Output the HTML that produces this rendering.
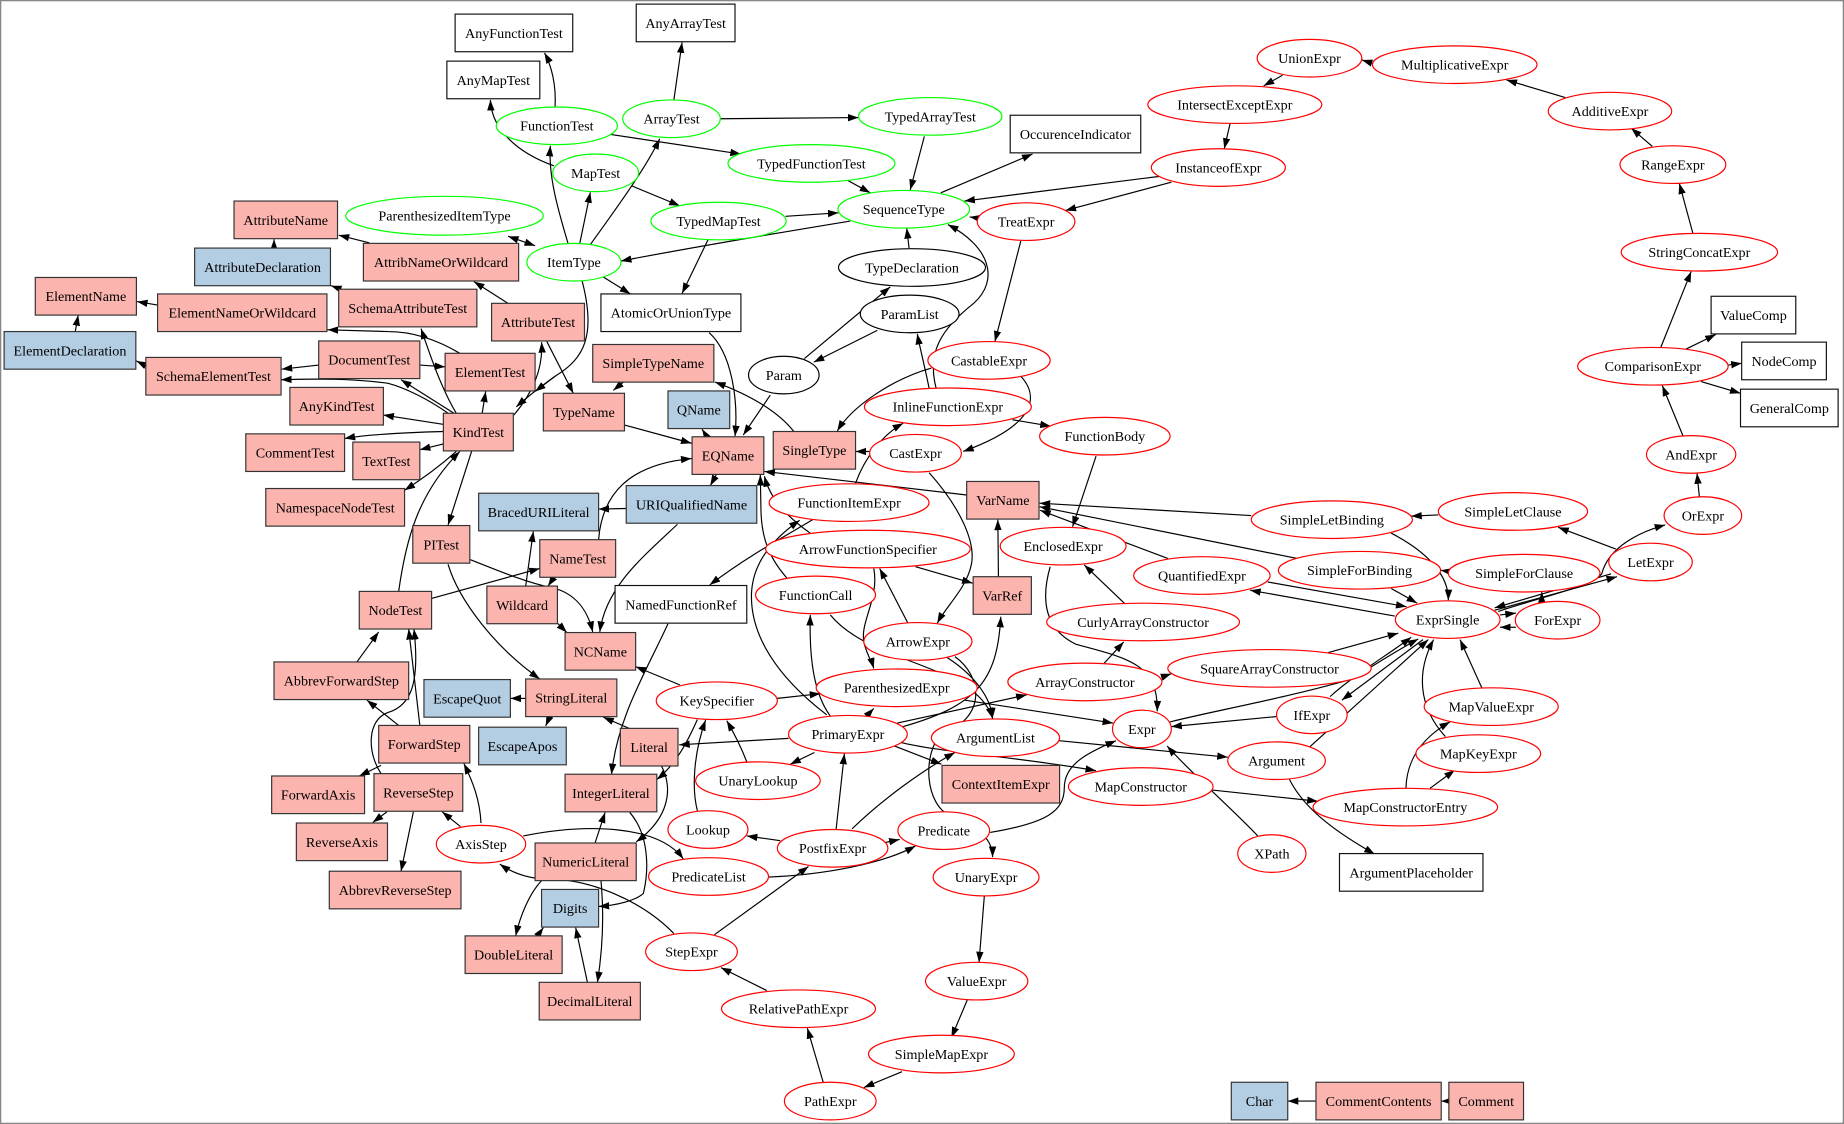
<!DOCTYPE html>
<html><head><meta charset="utf-8"><style>
html,body{margin:0;padding:0;background:#fff}
svg{display:block}
text{font-family:"Liberation Serif","Times New Roman",serif;font-size:12px;text-anchor:middle;fill:#000}
.e path{fill:none;stroke:#000;stroke-width:1;marker-end:url(#a)}
.pk rect{fill:#fbb4ae;stroke:#333;stroke-width:1}
.bl rect{fill:#b3cde3;stroke:#333;stroke-width:1}
.wh rect{fill:#fff;stroke:#111;stroke-width:1}
.gr ellipse{fill:#fff;stroke:#00ff00;stroke-width:1}
.rd ellipse{fill:#fff;stroke:#ff0000;stroke-width:1}
.bk ellipse{fill:#fff;stroke:#000;stroke-width:1}
</style></head><body>
<svg width="1844" height="1124" viewBox="0 0 1568 956" preserveAspectRatio="none" xmlns="http://www.w3.org/2000/svg">
<defs>
<marker id="a" viewBox="0 0 10 7" refX="10" refY="3.5" markerWidth="9" markerHeight="6.5" markerUnits="userSpaceOnUse" orient="auto"><path d="M0,0L10,3.5L0,7z" fill="#000"/></marker>
<marker id="b" viewBox="0 0 10 7" refX="10" refY="3.5" markerWidth="9" markerHeight="6.5" markerUnits="userSpaceOnUse" orient="auto-start-reverse"><path d="M0,0L10,3.5L0,7z" fill="#000"/></marker>
</defs>
<rect x="0" y="0" width="1568" height="956" fill="#fff"/>
<rect x="0.5" y="0.5" width="1567" height="955" fill="none" stroke="#888" stroke-width="1.2"/>

<g class="e">
<path d="M472,91 C473,72 469,56 463,45"/>
<path d="M471,141 C440,130 418,110 417,85"/>
<path d="M483,207 C475,180 466,150 468,124"/>
<path d="M493,207 L502,163.5"/>
<path d="M502,208 C522,180 548,145 561,118"/>
<path d="M432,201 L455,209" style="marker-start:url(#b);marker-end:url(#b)"/>
<path d="M517,114 L630,131"/>
<path d="M573,85 L580,36"/>
<path d="M612.5,101 L730,100"/>
<path d="M537,158 L578,175"/>
<path d="M786,116 L774,161.5"/>
<path d="M720,153 L740,164"/>
<path d="M668,184 L713,181"/>
<path d="M800,164 L878,131"/>
<path d="M723,188 C650,200 580,212 528,222"/>
<path d="M602,204 L580,249.5"/>
<path d="M512,235 L536,250"/>
<path d="M986,150 L820,171"/>
<path d="M996,155 L906,179"/>
<path d="M868,205 L846,290.5"/>
<path d="M773,211 L771,194"/>
<path d="M834,186 L824.5,184.5"/>
<path d="M796,330 C788,300 800,280 828,258 C850,238 842,210 806,191"/>
<path d="M790,330 C786,310 782,295 780,284"/>
<path d="M746,281 L692,308"/>
<path d="M684,305 L757,244"/>
<path d="M655,336 L632,370"/>
<path d="M603,283 C622,300 628,340 625,371"/>
<path d="M675,367 C660,348 635,335 608,325"/>
<path d="M531,361.5 L588,377"/>
<path d="M601,371.5 L597,365"/>
<path d="M609,404 L604,413"/>
<path d="M532.5,432.5 L509,433"/>
<path d="M576,446 C545,475 515,500 510,537.5"/>
<path d="M509,459 C512,420 535,395 588,390"/>
<path d="M471,491 L466,498.5"/>
<path d="M400,476 C430,488 450,496 470,500 C490,505 500,520 504,537.5"/>
<path d="M474,530 L482,538"/>
<path d="M447,498.5 L453.5,452"/>
<path d="M367,509 L459,483.5"/>
<path d="M339,503 C345,460 355,420 391,384"/>
<path d="M388,384 C370,400 355,410 344,417"/>
<path d="M401,384 L381,446.5"/>
<path d="M377.5,377.5 L357,382.5"/>
<path d="M377.5,367 C340,368 310,370 293,373"/>
<path d="M377.5,361 L326,353"/>
<path d="M381,351.5 C365,340 345,330 330,326 C300,322 270,322 239,323"/>
<path d="M386,351.5 L341,323"/>
<path d="M410,351.5 L413,333"/>
<path d="M388,351.5 C375,330 365,300 358,279.5"/>
<path d="M437,353 C452,335 462,315 460.5,291"/>
<path d="M465,290.5 L487.5,334.5"/>
<path d="M495,239 C507,285 497,305 472,320 C458,330 448,338 439,346"/>
<path d="M472,320 L455,333"/>
<path d="M530,325 L521.5,332"/>
<path d="M391,300.5 C370,288 350,282 330,282 L278.5,280.5"/>
<path d="M290,246 L281.5,243"/>
<path d="M432,258 L403,239.5"/>
<path d="M314,206.5 L288,200"/>
<path d="M233,211 L233,203.5"/>
<path d="M134,259.5 L116.5,256.5"/>
<path d="M64,282 L66.5,268"/>
<path d="M124,311 L116,307"/>
<path d="M271,310.5 L239.5,314"/>
<path d="M357,310.5 L378.5,312"/>
<path d="M739.5,384 L727.5,384"/>
<path d="M792,313 C760,322 725,345 712,366.5"/>
<path d="M868,320 C882,335 885,360 819,384"/>
<path d="M861,357 L893.5,362.5"/>
<path d="M932,388 L912,448"/>
<path d="M893,482 C885,510 888,535 915,548 C960,560 985,565 984,605"/>
<path d="M956,513 L922,480.5"/>
<path d="M939,564 L955.5,546"/>
<path d="M987.5,576 L996,573"/>
<path d="M849,490.5 L848.5,442"/>
<path d="M822,421 L650,401"/>
<path d="M1064,438.5 L884,428"/>
<path d="M993,475 L884.5,434"/>
<path d="M1103,475 L884,431"/>
<path d="M1223,438 L1200,439"/>
<path d="M1183,453.5 C1215,470 1232,490 1231.5,510.5"/>
<path d="M1231.5,486 L1225,485"/>
<path d="M1183,500.5 L1205,513"/>
<path d="M1078,495 L1196,516"/>
<path d="M1186,524 L1063,502"/>
<path d="M1374,467 L1325,448.5"/>
<path d="M1271,519 L1375,490.5"/>
<path d="M1370,488 L1271,517"/>
<path d="M1274,520 C1320,505 1355,498 1362,488 C1368,465 1395,452 1416,446.5"/>
<path d="M1311,512 L1311,503.5"/>
<path d="M1275.5,523 L1289,521.5"/>
<path d="M1289,533.5 L1275.5,533.5"/>
<path d="M1445,422.5 L1443,402.5"/>
<path d="M1431,370.5 L1413.5,328"/>
<path d="M1412,296 L1438,231"/>
<path d="M1433.5,297 L1459,284.5"/>
<path d="M1469.5,310.5 L1481,309"/>
<path d="M1446.5,324.5 L1480,334.5"/>
<path d="M1439.5,198.5 L1428,156"/>
<path d="M1405,124.5 L1387,109"/>
<path d="M1331,83 L1281,68"/>
<path d="M1167.5,54 L1158,51"/>
<path d="M1090.5,64 L1074.5,73"/>
<path d="M1046,105 L1041,126.5"/>
<path d="M1129.5,555 L1189,538.5"/>
<path d="M1131,592.5 C1150,575 1180,557 1200,542"/>
<path d="M995,614 C1030,605 1088,595 1148,578 C1170,565 1190,552 1206,543.5"/>
<path d="M1210,544 L1141,595.5"/>
<path d="M1114,635 L1214.5,544"/>
<path d="M1229,626.5 C1205,600 1205,570 1219,544"/>
<path d="M1260,585 L1241.5,544"/>
<path d="M1195.5,670.5 C1196,650 1205,630 1233,614"/>
<path d="M1216,670.5 L1237,655"/>
<path d="M1085,609.5 L996,618"/>
<path d="M1096.5,663 C1110,690 1140,710 1169,726.5"/>
<path d="M1031,672 L1120.5,681.5"/>
<path d="M1069.5,711 C1050,690 1010,655 992.5,634.5"/>
<path d="M900.5,630 L1044,644"/>
<path d="M820.5,595.5 L946.5,615"/>
<path d="M842,708 C890,700 905,690 905,670 C905,650 925,640 949,630"/>
<path d="M758,633.5 L800.5,650"/>
<path d="M764,631 C800,640 860,643 932,655.5"/>
<path d="M763,615 L873,591"/>
<path d="M736.5,609.5 L743,602.5"/>
<path d="M670.5,628 L577.5,633.5"/>
<path d="M706,609 C692,590 688,560 689,523"/>
<path d="M703,608 C660,575 638,540 639,505 C640,480 655,460 680,442.5"/>
<path d="M768,618 C830,600 848,580 851,524.5"/>
<path d="M692.5,640 L672,650"/>
<path d="M669,491.5 C650,470 647,450 647,430 L646.5,404"/>
<path d="M689,453.5 C670,440 655,425 650,405"/>
<path d="M706,523 C740,565 830,565 844,611"/>
<path d="M805,559 C830,575 843,595 844,611"/>
<path d="M812,558.5 C835,575 840,610 800,625 C785,640 785,685 810,695 C835,705 844,715 844,729"/>
<path d="M778.5,482 L827,496"/>
<path d="M743,483.5 C748,510 730,530 735,548 C738,558 742,565 743,568.5"/>
<path d="M772,530 L748,483.5"/>
<path d="M790,402 C815,430 830,460 826,480 C822,500 805,515 797,530"/>
<path d="M691,442 C670,455 640,470 603.5,497.5"/>
<path d="M727.5,411 C735,390 750,370 768,360"/>
<path d="M568,530.5 C550,570 525,610 520,658.5"/>
<path d="M578,582.5 L540.5,567"/>
<path d="M661,594 L697.5,590"/>
<path d="M593,612 C585,630 575,650 558.5,663"/>
<path d="M635,648 C630,635 625,625 618,613"/>
<path d="M593,689.5 C588,670 590,640 600,612.5"/>
<path d="M535,619.5 L513,610"/>
<path d="M562.5,651.5 C572,670 570,695 541,716"/>
<path d="M506,717 L514.5,691"/>
<path d="M460.5,749 C450,760 442,780 438.5,796"/>
<path d="M511,749 C514,780 512,810 508,835.5"/>
<path d="M457,796 L462,789"/>
<path d="M499.5,835.5 L489.5,789"/>
<path d="M535.5,691 C552,710 552,740 547,760 C540,766 525,770 509,771"/>
<path d="M381,480 C390,510 420,550 459,577.5"/>
<path d="M447,594 L434,594"/>
<path d="M467.5,609.5 L464,617.5"/>
<path d="M303.5,563 L322,537.5"/>
<path d="M357,617 L347.5,535"/>
<path d="M324,658 C312,640 312,612 330,606 C350,600 357,580 352,535"/>
<path d="M324,651 L305.5,660"/>
<path d="M339,617 L312,595.5"/>
<path d="M329,690.5 L317,699.5"/>
<path d="M351.5,690.5 L341,741"/>
<path d="M391.5,703 L376,690.5"/>
<path d="M409,700 C408,680 402,665 394.5,649.5"/>
<path d="M445,711 C500,700 560,702 581,730.5"/>
<path d="M573,794 C545,765 500,748 470,748 C450,748 435,742 425,735"/>
<path d="M607.5,795 L687.5,737"/>
<path d="M652,842.5 L613,823"/>
<path d="M700,920.5 L686.5,874.5"/>
<path d="M767,911.5 L734.5,925"/>
<path d="M822.5,850.5 L809,882.5"/>
<path d="M837,762 L832.5,818.5"/>
<path d="M711,705 L718,641"/>
<path d="M663.5,715 L635,711"/>
<path d="M753,716.5 L765,714"/>
<path d="M724.5,705 C750,680 785,655 812,640"/>
<path d="M653.5,746 C700,744 750,735 778.5,719.5"/>
<path d="M1119,936.5 L1095,936.5"/>
<path d="M1232,936.5 L1225.5,936.5"/>
</g>

<g class="wh">
<rect x="387" y="12" width="100" height="32"/>
<rect x="380" y="52" width="79" height="32"/>
<rect x="541" y="3.5" width="84" height="32"/>
<rect x="859" y="98" width="111" height="32"/>
<rect x="511" y="250" width="119" height="32"/>
<rect x="523" y="498" width="112" height="32"/>
<rect x="1455" y="252" width="72" height="32"/>
<rect x="1481" y="291" width="72" height="32"/>
<rect x="1480" y="331" width="83" height="32"/>
<rect x="1139" y="726" width="122" height="32"/>
</g>
<g class="pk">
<rect x="199" y="171" width="88" height="32"/>
<rect x="309" y="207" width="132" height="32"/>
<rect x="30" y="236" width="86" height="32"/>
<rect x="134" y="250" width="144" height="32"/>
<rect x="288" y="246" width="117.5" height="32"/>
<rect x="418" y="258" width="79" height="32"/>
<rect x="271" y="290" width="86" height="32"/>
<rect x="378.5" y="300.5" width="76.5" height="32"/>
<rect x="124" y="304" width="115" height="32"/>
<rect x="504" y="293" width="103" height="32"/>
<rect x="246.5" y="329.5" width="79.5" height="32"/>
<rect x="377" y="351.5" width="59.5" height="32"/>
<rect x="462" y="334.5" width="69" height="32"/>
<rect x="209" y="369" width="84" height="32"/>
<rect x="300" y="376" width="57" height="32"/>
<rect x="588.5" y="371.5" width="61" height="32"/>
<rect x="657.5" y="367" width="70" height="32"/>
<rect x="226" y="415.5" width="118" height="32"/>
<rect x="822" y="409.5" width="61.5" height="32"/>
<rect x="351" y="447" width="48.5" height="32"/>
<rect x="459" y="459" width="64.5" height="32"/>
<rect x="827.5" y="490.5" width="49.5" height="32"/>
<rect x="414" y="498.5" width="60" height="32"/>
<rect x="305.5" y="503" width="61.5" height="32"/>
<rect x="480.5" y="538" width="60" height="32"/>
<rect x="233" y="563" width="114.5" height="32"/>
<rect x="447" y="577.5" width="77.5" height="32"/>
<rect x="322" y="617" width="77.5" height="32"/>
<rect x="527.5" y="619.5" width="49" height="32"/>
<rect x="231" y="660" width="79" height="32"/>
<rect x="318" y="658" width="75.5" height="32"/>
<rect x="480.5" y="658.5" width="78" height="32"/>
<rect x="801" y="651" width="100" height="32"/>
<rect x="252" y="700" width="77.5" height="32"/>
<rect x="455" y="717" width="86" height="32"/>
<rect x="280" y="741" width="112" height="32"/>
<rect x="395.5" y="796" width="82.5" height="32"/>
<rect x="458.5" y="835.5" width="86" height="32"/>
<rect x="1119" y="920.5" width="106.5" height="32"/>
<rect x="1232" y="920.5" width="63.5" height="32"/>
</g>
<g class="bl">
<rect x="165.5" y="211" width="115.5" height="32"/>
<rect x="3.5" y="282" width="112" height="32"/>
<rect x="568" y="332.5" width="52.5" height="32"/>
<rect x="407" y="419.5" width="102" height="32"/>
<rect x="532.5" y="413" width="111" height="32"/>
<rect x="360.5" y="578" width="73.5" height="32"/>
<rect x="407" y="618.5" width="74.5" height="32"/>
<rect x="460.5" y="756.5" width="48.5" height="32"/>
<rect x="1047" y="920.5" width="48" height="32"/>
</g>
<g class="gr">
<ellipse cx="473.5" cy="107" rx="51.5" ry="16"/>
<ellipse cx="506.5" cy="147" rx="36.5" ry="16"/>
<ellipse cx="571" cy="101" rx="41.5" ry="16"/>
<ellipse cx="791" cy="99" rx="61" ry="16"/>
<ellipse cx="690" cy="139" rx="71" ry="16"/>
<ellipse cx="378" cy="183.5" rx="84" ry="16.5"/>
<ellipse cx="611" cy="188" rx="57.5" ry="16"/>
<ellipse cx="768.5" cy="178" rx="56" ry="16"/>
<ellipse cx="488" cy="223" rx="40" ry="16"/>
</g>
<g class="bk">
<ellipse cx="775.5" cy="227.5" rx="62.5" ry="16"/>
<ellipse cx="773.5" cy="267" rx="42" ry="16"/>
<ellipse cx="666.5" cy="319" rx="30" ry="16"/>
</g>
<g class="rd">
<ellipse cx="1113.5" cy="49.5" rx="44.5" ry="16"/>
<ellipse cx="1237" cy="55" rx="70" ry="16"/>
<ellipse cx="1050" cy="89" rx="74" ry="16"/>
<ellipse cx="1369" cy="94.5" rx="52.5" ry="16"/>
<ellipse cx="1036" cy="142.5" rx="57" ry="16"/>
<ellipse cx="1422.5" cy="140" rx="45" ry="16"/>
<ellipse cx="872.5" cy="188.5" rx="41.5" ry="16"/>
<ellipse cx="1445" cy="214.5" rx="66.5" ry="16"/>
<ellipse cx="841" cy="306.5" rx="52" ry="16"/>
<ellipse cx="1405.5" cy="311.5" rx="64" ry="16"/>
<ellipse cx="806" cy="346" rx="71" ry="16"/>
<ellipse cx="939.5" cy="371" rx="55.5" ry="16"/>
<ellipse cx="778.5" cy="385.5" rx="39" ry="16"/>
<ellipse cx="1438" cy="386.5" rx="38" ry="16"/>
<ellipse cx="722" cy="427.5" rx="68" ry="16"/>
<ellipse cx="1132.5" cy="442" rx="68.5" ry="16"/>
<ellipse cx="1286.5" cy="435" rx="63.5" ry="16"/>
<ellipse cx="1448" cy="438.5" rx="33" ry="16"/>
<ellipse cx="738" cy="467" rx="87" ry="16"/>
<ellipse cx="904" cy="464.5" rx="53.5" ry="16"/>
<ellipse cx="1022" cy="489.5" rx="58" ry="16"/>
<ellipse cx="1156" cy="485" rx="69" ry="16"/>
<ellipse cx="1296" cy="487.5" rx="64.5" ry="16"/>
<ellipse cx="1403.5" cy="478" rx="35.5" ry="16"/>
<ellipse cx="693.5" cy="506" rx="51" ry="16"/>
<ellipse cx="1231" cy="527" rx="44.5" ry="16"/>
<ellipse cx="1324.5" cy="527.5" rx="36" ry="16"/>
<ellipse cx="972" cy="529" rx="82" ry="16"/>
<ellipse cx="780.5" cy="545.5" rx="46" ry="16"/>
<ellipse cx="1079.5" cy="568.5" rx="86.5" ry="16"/>
<ellipse cx="762.5" cy="585" rx="68.5" ry="16"/>
<ellipse cx="922.5" cy="580" rx="65.5" ry="16"/>
<ellipse cx="609.5" cy="596" rx="51.5" ry="16"/>
<ellipse cx="1268" cy="601" rx="57" ry="16"/>
<ellipse cx="1115.5" cy="608" rx="30" ry="16"/>
<ellipse cx="721" cy="624.5" rx="50.5" ry="16"/>
<ellipse cx="846.5" cy="627.5" rx="54.5" ry="16"/>
<ellipse cx="971" cy="620" rx="25" ry="16"/>
<ellipse cx="1085.5" cy="647" rx="41.5" ry="16"/>
<ellipse cx="1257" cy="641" rx="53" ry="16"/>
<ellipse cx="644.5" cy="664" rx="53" ry="16"/>
<ellipse cx="970" cy="669" rx="61.5" ry="16"/>
<ellipse cx="1195" cy="686.5" rx="78.5" ry="16"/>
<ellipse cx="602" cy="705.5" rx="34" ry="16"/>
<ellipse cx="708" cy="721.5" rx="47" ry="16"/>
<ellipse cx="802.5" cy="706.5" rx="39" ry="16"/>
<ellipse cx="409" cy="718" rx="38" ry="16"/>
<ellipse cx="602.5" cy="745.5" rx="51" ry="16"/>
<ellipse cx="838.5" cy="746" rx="45" ry="16"/>
<ellipse cx="1081.5" cy="726" rx="29" ry="16"/>
<ellipse cx="588" cy="809.5" rx="39" ry="16"/>
<ellipse cx="830.5" cy="834.5" rx="43.5" ry="16"/>
<ellipse cx="679" cy="858" rx="65.5" ry="16"/>
<ellipse cx="800.5" cy="896.5" rx="62" ry="16"/>
<ellipse cx="706" cy="936.5" rx="39" ry="16"/>
</g>

<g>
<text x="437" y="32.2">AnyFunctionTest</text>
<text x="419.5" y="72.2">AnyMapTest</text>
<text x="583" y="23.7">AnyArrayTest</text>
<text x="914.5" y="118.2">OccurenceIndicator</text>
<text x="570.5" y="270.2">AtomicOrUnionType</text>
<text x="579" y="518.2">NamedFunctionRef</text>
<text x="1491" y="272.2">ValueComp</text>
<text x="1517" y="311.2">NodeComp</text>
<text x="1521.5" y="351.2">GeneralComp</text>
<text x="1200" y="746.2">ArgumentPlaceholder</text>
<text x="243" y="191.2">AttributeName</text>
<text x="375" y="227.2">AttribNameOrWildcard</text>
<text x="73" y="256.2">ElementName</text>
<text x="206" y="270.2">ElementNameOrWildcard</text>
<text x="346.75" y="266.2">SchemaAttributeTest</text>
<text x="457.5" y="278.2">AttributeTest</text>
<text x="314" y="310.2">DocumentTest</text>
<text x="416.75" y="320.7">ElementTest</text>
<text x="181.5" y="324.2">SchemaElementTest</text>
<text x="555.5" y="313.2">SimpleTypeName</text>
<text x="286.25" y="349.7">AnyKindTest</text>
<text x="406.75" y="371.7">KindTest</text>
<text x="496.5" y="354.7">TypeName</text>
<text x="251" y="389.2">CommentTest</text>
<text x="328.5" y="396.2">TextTest</text>
<text x="619" y="391.7">EQName</text>
<text x="692.5" y="387.2">SingleType</text>
<text x="285" y="435.7">NamespaceNodeTest</text>
<text x="852.75" y="429.7">VarName</text>
<text x="375.25" y="467.2">PITest</text>
<text x="491.25" y="479.2">NameTest</text>
<text x="852.25" y="510.7">VarRef</text>
<text x="444" y="518.7">Wildcard</text>
<text x="336.25" y="523.2">NodeTest</text>
<text x="510.5" y="558.2">NCName</text>
<text x="290.25" y="583.2">AbbrevForwardStep</text>
<text x="485.75" y="597.7">StringLiteral</text>
<text x="360.75" y="637.2">ForwardStep</text>
<text x="552" y="639.7">Literal</text>
<text x="270.5" y="680.2">ForwardAxis</text>
<text x="355.75" y="678.2">ReverseStep</text>
<text x="519.5" y="678.7">IntegerLiteral</text>
<text x="851" y="671.2">ContextItemExpr</text>
<text x="290.75" y="720.2">ReverseAxis</text>
<text x="498" y="737.2">NumericLiteral</text>
<text x="336" y="761.2">AbbrevReverseStep</text>
<text x="436.75" y="816.2">DoubleLiteral</text>
<text x="501.5" y="855.7">DecimalLiteral</text>
<text x="1172.25" y="940.7">CommentContents</text>
<text x="1263.75" y="940.7">Comment</text>
<text x="223.25" y="231.2">AttributeDeclaration</text>
<text x="59.5" y="302.2">ElementDeclaration</text>
<text x="594.25" y="352.7">QName</text>
<text x="458" y="439.7">BracedURILiteral</text>
<text x="588" y="433.2">URIQualifiedName</text>
<text x="397.25" y="598.2">EscapeQuot</text>
<text x="444.25" y="638.7">EscapeApos</text>
<text x="484.75" y="776.7">Digits</text>
<text x="1071" y="940.7">Char</text>

<text x="473.5" y="111.2">FunctionTest</text>
<text x="506.5" y="151.2">MapTest</text>
<text x="571" y="105.2">ArrayTest</text>
<text x="791" y="103.2">TypedArrayTest</text>
<text x="690" y="143.2">TypedFunctionTest</text>
<text x="378" y="187.7">ParenthesizedItemType</text>
<text x="611" y="192.2">TypedMapTest</text>
<text x="768.5" y="182.2">SequenceType</text>
<text x="488" y="227.2">ItemType</text>
<text x="775.5" y="231.7">TypeDeclaration</text>
<text x="773.5" y="271.2">ParamList</text>
<text x="666.5" y="323.2">Param</text>
<text x="1113.5" y="53.7">UnionExpr</text>
<text x="1237" y="59.2">MultiplicativeExpr</text>
<text x="1050" y="93.2">IntersectExceptExpr</text>
<text x="1369" y="98.7">AdditiveExpr</text>
<text x="1036" y="146.7">InstanceofExpr</text>
<text x="1422.5" y="144.2">RangeExpr</text>
<text x="872.5" y="192.7">TreatExpr</text>
<text x="1445" y="218.7">StringConcatExpr</text>
<text x="841" y="310.7">CastableExpr</text>
<text x="1405.5" y="315.7">ComparisonExpr</text>
<text x="806" y="350.2">InlineFunctionExpr</text>
<text x="939.5" y="375.2">FunctionBody</text>
<text x="778.5" y="389.7">CastExpr</text>
<text x="1438" y="390.7">AndExpr</text>
<text x="722" y="431.7">FunctionItemExpr</text>
<text x="1132.5" y="446.2">SimpleLetBinding</text>
<text x="1286.5" y="439.2">SimpleLetClause</text>
<text x="1448" y="442.7">OrExpr</text>
<text x="738" y="471.2">ArrowFunctionSpecifier</text>
<text x="904" y="468.7">EnclosedExpr</text>
<text x="1022" y="493.7">QuantifiedExpr</text>
<text x="1156" y="489.2">SimpleForBinding</text>
<text x="1296" y="491.7">SimpleForClause</text>
<text x="1403.5" y="482.2">LetExpr</text>
<text x="693.5" y="510.2">FunctionCall</text>
<text x="1231" y="531.2">ExprSingle</text>
<text x="1324.5" y="531.7">ForExpr</text>
<text x="972" y="533.2">CurlyArrayConstructor</text>
<text x="780.5" y="549.7">ArrowExpr</text>
<text x="1079.5" y="572.7">SquareArrayConstructor</text>
<text x="762.5" y="589.2">ParenthesizedExpr</text>
<text x="922.5" y="584.2">ArrayConstructor</text>
<text x="609.5" y="600.2">KeySpecifier</text>
<text x="1268" y="605.2">MapValueExpr</text>
<text x="1115.5" y="612.2">IfExpr</text>
<text x="721" y="628.7">PrimaryExpr</text>
<text x="846.5" y="631.7">ArgumentList</text>
<text x="971" y="624.2">Expr</text>
<text x="1085.5" y="651.2">Argument</text>
<text x="1257" y="645.2">MapKeyExpr</text>
<text x="644.5" y="668.2">UnaryLookup</text>
<text x="970" y="673.2">MapConstructor</text>
<text x="1195" y="690.7">MapConstructorEntry</text>
<text x="602" y="709.7">Lookup</text>
<text x="708" y="725.7">PostfixExpr</text>
<text x="802.5" y="710.7">Predicate</text>
<text x="409" y="722.2">AxisStep</text>
<text x="602.5" y="749.7">PredicateList</text>
<text x="838.5" y="750.2">UnaryExpr</text>
<text x="1081.5" y="730.2">XPath</text>
<text x="588" y="813.7">StepExpr</text>
<text x="830.5" y="838.7">ValueExpr</text>
<text x="679" y="862.2">RelativePathExpr</text>
<text x="800.5" y="900.7">SimpleMapExpr</text>
<text x="706" y="940.7">PathExpr</text>
</g>
</svg>
</body></html>
